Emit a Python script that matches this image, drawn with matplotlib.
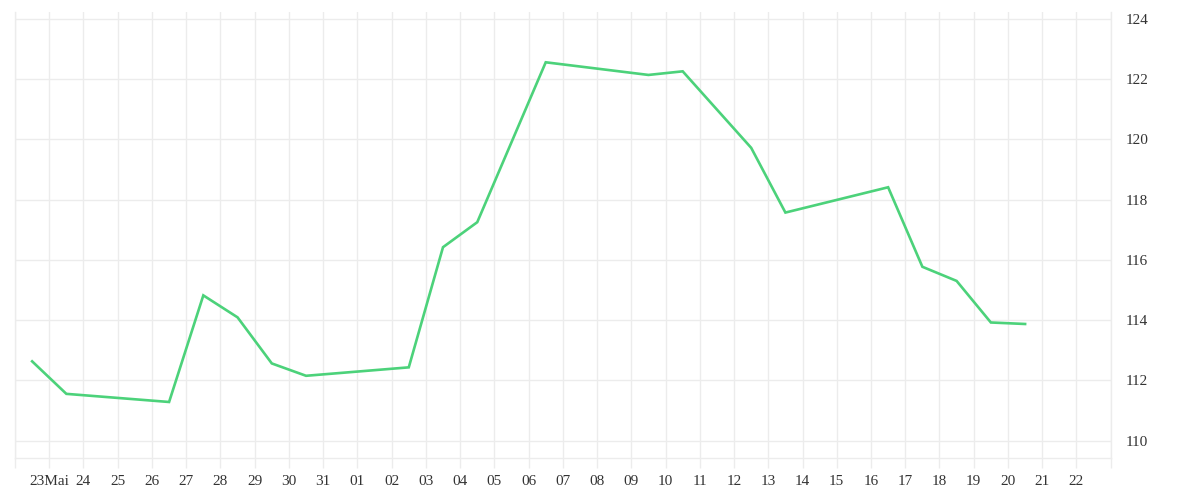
import matplotlib
matplotlib.use("Agg")
import matplotlib.pyplot as plt
import pandas as pd

# daily closing values (sampled at midday)
dates = ["2018-05-22", "2018-05-23", "2018-05-26", "2018-05-27", "2018-05-28",
         "2018-05-29", "2018-05-30", "2018-06-02", "2018-06-03", "2018-06-04",
         "2018-06-06", "2018-06-09", "2018-06-10", "2018-06-12", "2018-06-13",
         "2018-06-16", "2018-06-17", "2018-06-18", "2018-06-19", "2018-06-20"]
values = [112.63, 111.55, 111.28, 114.82, 114.09,
          112.56, 112.15, 112.43, 116.42, 117.25,
          122.56, 122.14, 122.26, 119.72, 117.57,
          118.41, 115.77, 115.30, 113.92, 113.87]

x_start, x_end = "2018-05-22", "2018-06-23"
y_ticks = [110, 112, 114, 116, 118, 120, 122, 124]
month_label = "Mai"

grid_col = "#ececec"
line_col = "#4cd27a"

times = pd.to_datetime(dates) + pd.Timedelta(hours=12)
days = pd.date_range(x_start, x_end, freq="D")
day_labels = []
for d in days:
    if d == days[0] or d == days[-1]:
        day_labels.append("")
    elif d.month == 5 and d.day == 23:
        day_labels.append(d.strftime("%d") + month_label)
    else:
        day_labels.append(d.strftime("%d"))

plt.rcParams['font.family'] = ['Liberation Serif', 'DejaVu Serif']

fig = plt.figure(figsize=(12, 5), dpi=100, facecolor='w')
ax = fig.add_axes([15 / 1200, 42 / 500, (1110.7 - 15) / 1200, (458 - 12) / 500])

ax.plot(times, values, color=line_col, linewidth=1.9, solid_joinstyle='miter')

ax.set_xlim(pd.Timestamp(x_start), pd.Timestamp(x_end))
ax.set_ylim(109.42, 124.23)
ax.set_xticks(days)
ax.set_xticklabels(day_labels)
ax.set_yticks(y_ticks)

ax.yaxis.tick_right()
ax.grid(True, color=grid_col, linewidth=1)
ax.set_axisbelow(True)
ax.tick_params(axis='x', length=7.2, width=1, color=grid_col, pad=5,
               labelsize=11, labelcolor='#333333')
ax.tick_params(axis='y', length=0, pad=11, labelsize=11, labelcolor='#333333')

ax.spines['top'].set_visible(False)
for side in ['left', 'right', 'bottom']:
    ax.spines[side].set_color(grid_col)
    ax.spines[side].set_linewidth(1)

fig.savefig("out.png", dpi=100, facecolor='w')
